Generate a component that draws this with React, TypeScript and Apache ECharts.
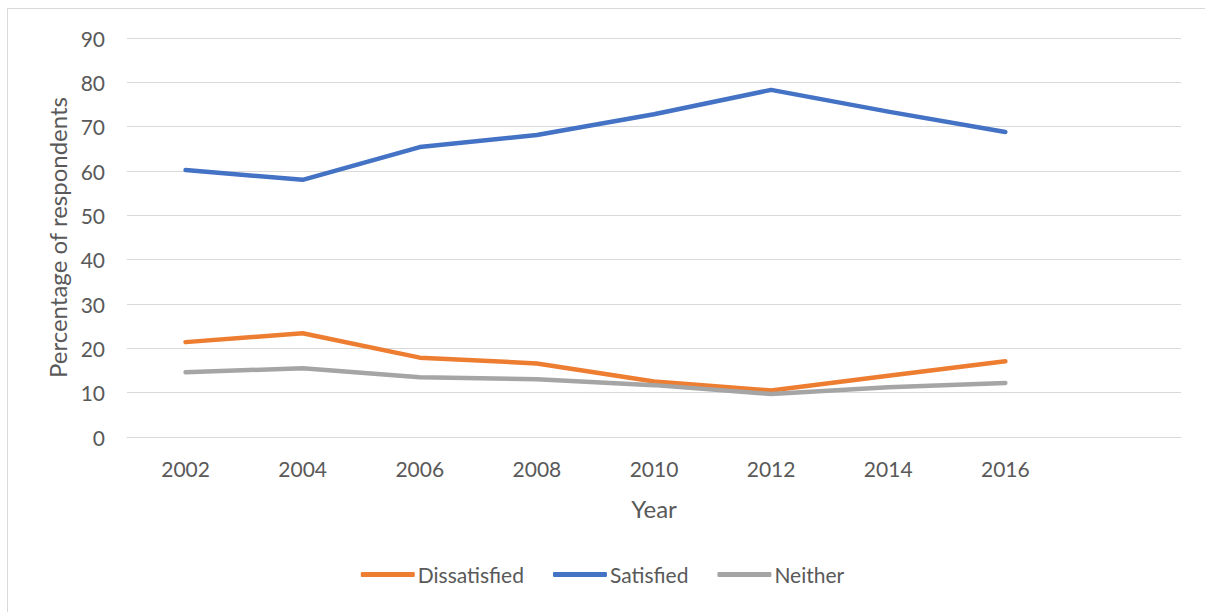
import React, { useEffect, useRef } from "react";
import * as echarts from "echarts";

// Survey years; the trailing blank slot leaves room on the right of the plot.
const years = ["2002", "2004", "2006", "2008", "2010", "2012", "2014", "2016", ""];

const dissatisfied = [21.4, 23.4, 17.9, 16.6, 12.5, 10.5, 13.8, 17.1];
const satisfied = [60.2, 58.0, 65.4, 68.1, 72.8, 78.3, 73.4, 68.8];
const neither = [14.6, 15.5, 13.5, 13.0, 11.7, 9.7, 11.2, 12.2];

const yTicks = { min: 0, max: 90, interval: 10 };

const FONT = "Lato";
const TEXT = "#595959";
const GRID = "#D9D9D9";

export default function App() {
  const ref = useRef<HTMLDivElement>(null);

  useEffect(() => {
    if (!ref.current) return;
    const chart = echarts.init(ref.current, undefined, { renderer: "svg" });
    const lineSeries = (name: string, data: number[], color: string) => ({
      name,
      type: "line",
      data,
      showSymbol: false,
      symbol: "none",
      itemStyle: { color },
      lineStyle: { color, width: 4.5, cap: "round", join: "round" },
    });
    chart.setOption({
      animation: false,
      textStyle: { fontFamily: FONT },
      graphic: [
        {
          type: "rect",
          shape: { x: 7.5, y: 8.5, width: 1400, height: 800 },
          style: { fill: "none", stroke: GRID, lineWidth: 1 },
          silent: true,
        },
      ],
      grid: { left: 127, right: 24, top: 38, bottom: 175, containLabel: false },
      legend: {
        bottom: 22,
        left: "center",
        itemWidth: 54,
        itemHeight: 5,
        itemGap: 29,
        icon: "roundRect",
        textStyle: { color: TEXT, fontSize: 21, fontFamily: FONT, padding: [0, 0, 0, -2] },
        data: ["Dissatisfied", "Satisfied", "Neither"],
      },
      xAxis: {
        type: "category",
        data: years,
        boundaryGap: true,
        name: "Year",
        nameLocation: "middle",
        nameGap: 59,
        nameTextStyle: { color: TEXT, fontSize: 24, fontFamily: FONT },
        axisLine: { show: true, lineStyle: { color: GRID, width: 1 } },
        axisTick: { show: false },
        axisLabel: { color: TEXT, fontSize: 21, margin: 21, fontFamily: FONT },
      },
      yAxis: {
        type: "value",
        min: yTicks.min,
        max: yTicks.max,
        interval: yTicks.interval,
        name: "Percentage of respondents",
        nameLocation: "middle",
        nameGap: 55,
        nameTextStyle: { color: TEXT, fontSize: 24, fontFamily: FONT },
        axisLine: { show: false },
        axisTick: { show: false },
        axisLabel: { color: TEXT, fontSize: 21, margin: 22, fontFamily: FONT },
        splitLine: { lineStyle: { color: GRID, width: 1 } },
      },
      series: [
        lineSeries("Dissatisfied", dissatisfied, "#ED7D31"),
        lineSeries("Satisfied", satisfied, "#4472C4"),
        lineSeries("Neither", neither, "#A5A5A5"),
      ],
    });
    return () => chart.dispose();
  }, []);

  return (
    <div
      ref={ref}
      style={{ position: "fixed", left: 0, top: 0, width: 1205, height: 612, background: "#fff" }}
    />
  );
}
